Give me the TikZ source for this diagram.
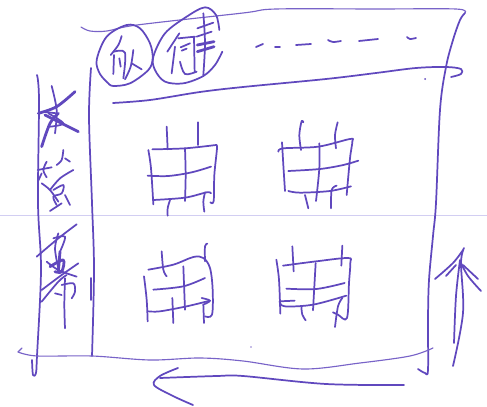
\documentclass[tikz,border=0pt]{standalone}
\definecolor{penink}{HTML}{6048BE}
\definecolor{ruleline}{HTML}{D2CEF2}
\tikzset{pen/.style={draw=penink,line width=1.3pt,line cap=round,line join=round},
 thinpen/.style={draw=penink!85,line width=.85pt,line cap=round,line join=round},
 thickpen/.style={draw=penink,line width=2.1pt,line cap=round,line join=round},
 zoomed/.style={scale=1/3}}
\newcommand{\sk}[2][pen]{\draw[#1] plot[smooth,tension=.55] coordinates {#2};}
\begin{document}
\begin{tikzpicture}[x=.75pt,y=-.75pt]
\path[fill=white,use as bounding box] (0,0) rectangle (487,407);
\draw[ruleline,line width=.7pt] (0,215) -- (487,215);
% page outline
\sk[thinpen]{(81,27)(90,31)(107,31)(137,25)(243,13)(276,9)(376,9)(456,9)(465,13)}
\sk{(465,13)(460,20)(453,40)(446,67)(440,110)(436,203)(433,236)(429,280)(428,320)(428,370)(425,373)(418,369)}
\sk{(113,103)(150,100)(200,92)(243,87)(326,79)(376,73)(416,68)(446,67)(461,69)(461,74)(451,77)}
\fill[penink] (425,79) circle (1);
\fill[penink!70] (251,347) circle (.9);
% dashes
\sk{(256,47)(263,44)}\sk{(275,47)(280,47)}\sk{(296,45)(311,44)}\sk{(328,40)(333,42)(341,41)}\sk{(359,41)(378,39)}\sk{(407,37)(410,39)(416,38)}
% left band
\sk{(91,68)(89,117)(92,203)(94,270)(92,356)}
\sk{(91,278)(91,300)}
\sk{(37,75)(39,100)(38,203)(41,270)(37,356)(36,373)(33,375)(32,360)}
\sk[thinpen]{(18,352)(22,348)}
\sk[thinpen]{(18,352)(37,356)(92,356)(150,360)(200,358)(243,361)(303,369)(360,363)(410,356)(433,348)}
% bottom arrow
\sk{(160,378)(217,376)(243,376)(326,384)(404,385)}
\sk{(178,368)(160,376)(154,385)(173,396)(193,405)}
% right arrow
\sk{(453,366)(463,313)(461,263)(464,248)}
\sk{(454,343)(456,296)(460,260)}
\sk{(435,279)(453,263)(463,250)}
\sk{(446,276)(456,265)}
\sk{(481,291)(468,276)(460,261)}
\sk{(478,279)(463,265)}
% top-left grid
\begin{scope}[shift={(135,115)},zoomed]
\sk{(52,103)(150,100)(243,90)}
\sk{(243,90)(246,100)(238,180)(236,258)(226,262)}
\sk{(40,105)(48,160)(55,268)}
\sk{(150,100)(152,180)(150,258)}
\sk{(38,182)(100,183)(170,172)(228,155)}
\sk{(55,255)(150,248)(215,232)(228,235)}
\sk{(95,35)(98,103)}\sk{(190,22)(190,90)}
\sk{(105,255)(98,280)(98,302)}\sk{(210,232)(205,260)(208,290)}
\end{scope}
% top-right grid
\begin{scope}[shift={(270,115)},zoomed]
\sk{(25,110)(40,100)(145,95)(240,72)(247,80)(240,130)(230,240)}
\sk{(36,82)(40,150)(45,228)}
\sk{(148,85)(148,160)(138,258)}
\sk{(55,168)(150,162)(220,150)(265,137)}
\sk{(55,228)(90,233)(180,228)(243,214)}
\sk{(100,22)(95,18)(88,60)(93,105)}\sk{(203,22)(195,60)(198,100)}
\sk{(105,240)(115,280)}\sk{(200,212)(185,225)(183,280)}
\end{scope}
% bottom-left grid
\begin{scope}[shift={(0,203)},zoomed]
\sk{(432,220)(440,290)(443,355)}
\sk{(445,200)(520,185)(580,162)(610,165)(630,195)(638,260)(636,335)(615,340)}
\sk{(460,260)(550,250)(615,225)}
\sk{(445,325)(480,325)(560,310)(630,293)}
\sk{(605,285)(630,293)(610,305)}
\sk{(550,190)(555,320)}
\sk{(485,145)(490,200)(500,220)}\sk{(622,122)(615,130)(615,175)}
\sk{(517,285)(520,360)}\sk{(610,305)(612,360)}
\end{scope}
% bottom-right grid
\begin{scope}[shift={(243,203)},zoomed]
\sk{(100,170)(108,230)(112,332)}
\sk{(120,188)(220,175)(315,165)(322,180)(318,240)(312,345)(285,335)(270,328)}
\sk{(130,257)(220,258)(305,240)}
\sk{(110,295)(125,310)(210,305)(310,278)}
\sk{(110,295)(155,293)}
\sk{(218,180)(210,322)}
\sk{(148,130)(152,205)}\sk{(298,128)(295,188)}
\sk{(175,310)(178,335)(188,352)}\sk{(298,285)(285,310)(276,372)}
\end{scope}
% two ringed handwritten characters
\begin{scope}[shift={(90,0)},zoomed]
\sk{(55,250)(30,222)(20,180)(50,110)(110,75)(150,85)(180,130)(188,175)(175,210)(120,250)(70,258)(55,250)}
\sk{(95,108)(85,135)(62,165)}\sk{(72,165)(70,222)}\sk{(72,155)(105,158)(100,235)}
\sk{(130,150)(122,200)(105,238)}\sk{(125,190)(155,208)}
\sk{(88,175)(92,200)}
\sk{(388,90)(378,45)(345,22)(290,50)(225,100)(190,170)(195,210)(225,245)(280,250)(340,228)(375,195)(397,155)}
\sk{(268,100)(232,155)}\sk{(255,140)(245,220)}
\sk{(265,115)(315,110)}\sk{(272,142)(300,130)}\sk{(275,152)(290,146)}\sk{(270,185)(285,222)(320,215)}\sk{(312,112)(314,215)}
\sk{(340,40)(345,130)(340,225)}
\sk{(322,85)(370,68)}\sk{(320,110)(365,95)}\sk[thickpen]{(322,135)(372,125)}\sk[thickpen]{(322,155)(372,140)}
\end{scope}
% handwritten column: first character
\begin{scope}[zoomed]
\sk{(155,258)(170,330)(165,400)}
\sk[thickpen]{(225,275)(170,320)(115,340)}
\sk{(125,335)(170,340)}
\sk[thickpen]{(135,345)(235,395)}
\sk[thickpen]{(125,440)(150,370)(175,340)}
\sk{(145,340)(190,370)(150,380)}
\end{scope}
% second character
\begin{scope}[shift={(25,90)},zoomed]
\sk{(115,180)(110,210)(95,225)}\sk{(120,205)(135,215)}
\sk{(65,215)(55,240)(65,262)}\sk{(38,240)(80,232)}\sk{(50,250)(40,272)}
\sk{(145,240)(105,265)(75,300)}\sk{(50,280)(75,300)(100,335)}
\sk{(85,300)(115,285)(110,310)(85,320)(95,345)}\sk{(120,315)(135,345)}
\sk{(75,363)(110,340)}
\end{scope}
% third character
\begin{scope}[shift={(25,205)},zoomed]
\sk{(35,155)(100,100)(155,58)}
\sk{(100,85)(90,130)(100,190)}\sk{(85,100)(120,95)(105,140)}
\sk{(65,170)(100,195)(155,215)}
\sk[thickpen]{(105,140)(100,200)}\sk[thickpen]{(75,185)(115,165)(110,200)(90,200)}
\sk{(50,255)(110,210)(160,175)}
\sk{(50,290)(100,230)(125,210)}
\sk{(120,220)(118,300)(120,370)}
\sk{(90,265)(110,270)}\sk{(110,240)(145,235)(150,260)(140,280)}
\end{scope}
\end{tikzpicture}
\end{document}
